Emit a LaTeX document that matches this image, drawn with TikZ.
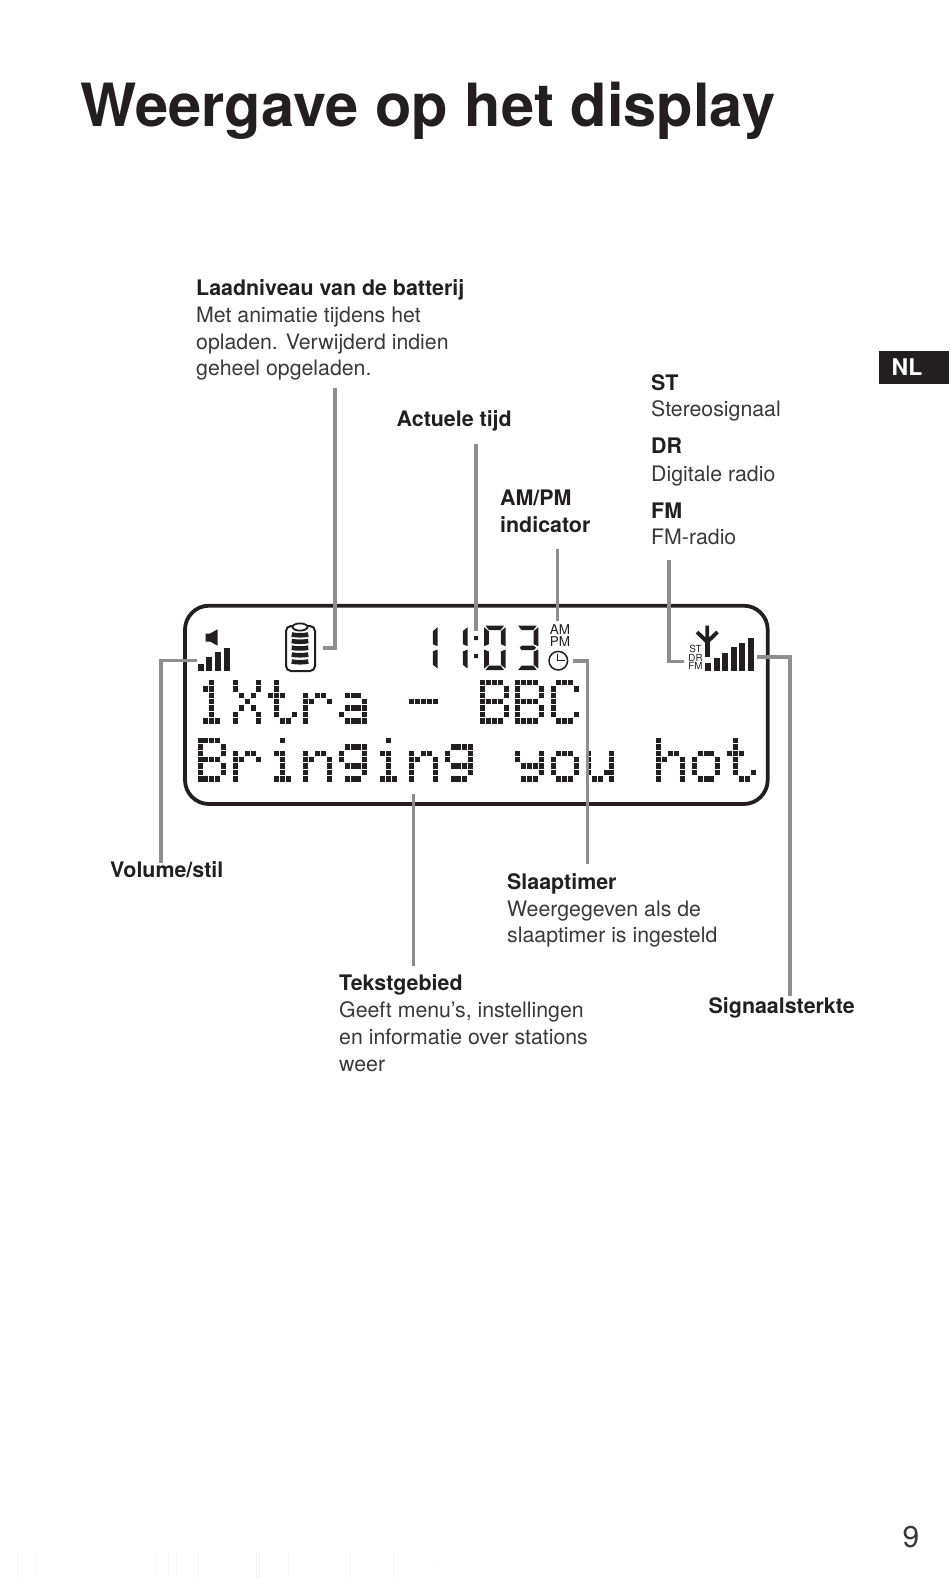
\documentclass[tikz,border=0pt]{standalone}
\usepackage{fontspec}
\setmainfont{TeX Gyre Heros}
\definecolor{inkblack}{HTML}{231F20}
\definecolor{bodygrey}{HTML}{3A3839}
\definecolor{leadgrey}{HTML}{8E8E8E}
\definecolor{scanfaint}{HTML}{F3F3F9}
\tikzset{
  leader/.style={draw=leadgrey,line width=3.3pt,line join=miter},
  headtext/.style={anchor=base west,inner sep=0pt,font=\fontsize{21.4}{26.5}\selectfont\bfseries,text=inkblack},
  infotext/.style={anchor=base west,inner sep=0pt,font=\fontsize{21.3}{26.5}\selectfont,text=bodygrey},
  tinytext/.style={inner sep=0pt,anchor=base,text=inkblack},
  lcd/.style={fill=inkblack}
}
% dot matrix letters: row/{columns}
\newcommand\defglyph[2]{\expandafter\def\csname gl#1\endcsname{#2}}
\defglyph{1}{0/2,1/{1,2},2/2,3/2,4/2,5/2,6/{1,2,3}}
\defglyph{X}{0/{0,4},1/{0,4},2/{1,3},3/2,4/{1,3},5/{0,4},6/{0,4}}
\defglyph{t}{0/1,1/1,2/{0,1,2},3/1,4/1,5/{1,4},6/{2,3}}
\defglyph{r}{2/{0,2,3},3/{0,1,4},4/0,5/0,6/0}
\defglyph{a}{2/{1,2,3},3/4,4/{1,2,3,4},5/{0,4},6/{1,2,3,4}}
\defglyph{-}{3/{0,1,2,3,4}}
\defglyph{B}{0/{0,1,2,3},1/{0,4},2/{0,4},3/{0,1,2,3},4/{0,4},5/{0,4},6/{0,1,2,3}}
\defglyph{C}{0/{1,2,3},1/{0,4},2/0,3/0,4/0,5/{0,4},6/{1,2,3}}
\defglyph{i}{0/2,2/{1,2},3/2,4/2,5/2,6/{1,2,3}}
\defglyph{n}{2/{0,2,3},3/{0,1,4},4/{0,4},5/{0,4},6/{0,4}}
\defglyph{g}{1/{1,2,3,4},2/{0,4},3/{0,4},4/{1,2,3,4},5/4,6/{1,2,3}}
\defglyph{y}{2/{0,4},3/{0,4},4/{1,2,3,4},5/4,6/{1,2,3}}
\defglyph{o}{2/{1,2,3},3/{0,4},4/{0,4},5/{0,4},6/{1,2,3}}
\defglyph{u}{2/{0,4},3/{0,4},4/{0,4},5/{0,3,4},6/{1,2,4}}
\defglyph{h}{0/0,1/0,2/{0,2,3},3/{0,1,4},4/{0,4},5/{0,4},6/{0,4}}
\newcommand\dotline[3]{
  \foreach \k/\g in {#3}{
    \edef\curglyph{\csname gl\g\endcsname}
    \foreach \rw/\cls in \curglyph{
      \foreach \cl in \cls{
        \fill[lcd]({#1+\k*35.3+\cl*5.9},{#2+\rw*6.35}) rectangle +(5,5.4);
      }
    }
  }
}
% clock digit segments, digit box 21.6 x 44.3
\newcommand\segA{\fill[lcd](1.5,0)--(20,0)--(16.6,4.4)--(5,4.4)--cycle;}
\newcommand\segB{\fill[lcd](21.6,1.5)--(21.6,20.5)--(16.8,18.5)--(16.8,5.5)--cycle;}
\newcommand\segC{\fill[lcd](21.6,23.8)--(21.6,42.8)--(16.8,39)--(16.8,25.8)--cycle;}
\newcommand\segD{\fill[lcd](1.5,44.3)--(20,44.3)--(16.6,39.9)--(5,39.9)--cycle;}
\newcommand\segE{\fill[lcd](0,23.8)--(0,42.8)--(4.8,39)--(4.8,25.8)--cycle;}
\newcommand\segF{\fill[lcd](0,1.5)--(0,20.5)--(4.8,18.5)--(4.8,5.5)--cycle;}
\newcommand\segG{\fill[lcd](3,22.1)--(5,19.9)--(17,19.9)--(19.5,22.1)--(17,24.3)--(5,24.3)--cycle;}
\begin{document}
\begin{tikzpicture}[x=1pt,y=-1pt]
  \useasboundingbox(0,0)rectangle(950,1578);
  % title and tab
  \node[anchor=base west,inner sep=0pt,text=inkblack,font=\fontsize{59.6}{60}\selectfont\bfseries](title) at (80.5,127){Weergave op het display};
  \fill[inkblack](878.5,351)rectangle(949,383.5);
  \node[anchor=base,inner sep=0pt,text=white,font=\fontsize{23}{23}\selectfont\bfseries](tab) at (907,375){NL};
  \node[anchor=base,inner sep=0pt,text=bodygrey,font=\fontsize{30}{30}\selectfont](pagenum) at (911,1547){9};
  \foreach \x in {17,36,156,168,176,198,256,259,288,350,393}{
    \draw[scanfaint,line width=.8pt](\x,1552)--(\x,1578);
  }
  \draw[scanfaint,line width=.8pt,dotted](434,1558)--(434,1567);
  % labels
  \node[headtext](batlabel) at (196,296){Laadniveau van de batterij};
  \node[infotext](batline1) at (196,323){Met animatie tijdens het};
  \node[infotext](batline2) at (196,349){opladen. Verwijderd indien};
  \node[infotext](batline3) at (196,375.5){geheel opgeladen.};
  \node[headtext](timelabel) at (396.5,426.5){Actuele tijd};
  \node[headtext](amlabel) at (500,505){AM/PM};
  \node[headtext](indlabel) at (500,532){indicator};
  \node[headtext](stlabel) at (651,390.5){ST};
  \node[infotext](sttext) at (651,416.5){Stereosignaal};
  \node[headtext](drlabel) at (651,453){DR};
  \node[infotext](drtext) at (651,481){Digitale radio};
  \node[headtext](fmlabel) at (651,518){FM};
  \node[infotext](fmtext) at (651,544.5){FM-radio};
  \node[headtext](vollabel) at (110,877.5){Volume/stil};
  \node[headtext](sleeplabel) at (507,889.5){Slaaptimer};
  \node[infotext](sleepline1) at (507,916){Weergegeven als de};
  \node[infotext](sleepline2) at (507,942){slaaptimer is ingesteld};
  \node[headtext](arealabel) at (339,990){Tekstgebied};
  \node[infotext](arealine1) at (339,1017.5){Geeft menu’s, instellingen};
  \node[infotext](arealine2) at (339,1044){en informatie over stations};
  \node[infotext](arealine3) at (339,1071){weer};
  \node[headtext](siglabel) at (708.5,1013.5){Signaalsterkte};
  % display
  \draw[inkblack,line width=3.8pt,rounded corners=24pt](185,605.7)rectangle(767.7,804);
  \dotline{197.5}{680}{0/1,1/X,2/t,3/r,4/a,6/-,8/B,9/B,10/C}
  \dotline{197.5}{738}{0/B,1/r,2/i,3/n,4/g,5/i,6/n,7/g,9/y,10/o,11/u,13/h,14/o,15/t}
  % speaker and volume bars
  \fill[lcd](205.7,633.5)--(210,633.5)--(217.7,629.3)--(217.7,645.7)--(210,641.5)--(205.7,641.5)--cycle;
  \foreach \x/\y in {198.3/663.5,206/656.7,215/652.3,224/648.3}{
    \fill[lcd](\x,\y)rectangle(\x+5.5,671);
  }
  % battery
  \draw[inkblack,line width=2pt,fill=white,rounded corners=5pt](286,626)rectangle(315,671);
  \draw[inkblack,line width=1.8pt,fill=white](300,627)ellipse[x radius=7.5,y radius=3.6];
  \foreach \y in {634.5,641,647.7,654.5,661.5}{
    \draw[inkblack,line width=4.6pt](291.7,\y)..controls(296,\y+1)and(304,\y+1)..(308.3,\y);
  }
  % clock
  \begin{scope}[shift={(416,625.7)}]\segB\segC\end{scope}
  \begin{scope}[shift={(446,625.7)}]\segB\segC\end{scope}
  \fill[lcd](474,636)rectangle(478,640) (474,654)rectangle(478,658);
  \begin{scope}[shift={(484,625.7)}]\segA\segB\segC\segD\segE\segF\end{scope}
  \begin{scope}[shift={(516.7,625.7)}]\segA\segB\segC\segD\segG\end{scope}
  % am/pm and sleep timer
  \node[tinytext,font=\fontsize{13.5}{13.5}\selectfont](amtag) at (560,634){AM};
  \node[tinytext,font=\fontsize{13.5}{13.5}\selectfont](pmtag) at (560,646.7){PM};
  \draw[inkblack,line width=1.5pt](558.3,660.7)circle(9.3);
  \draw[inkblack,line width=1.3pt](557.5,653.5)--(557.5,660.7)--(565,660.7);
  % receiver tags, aerial and signal
  \node[tinytext,font=\fontsize{9.8}{9.8}\selectfont](sttag) at (695.5,652.7){ST};
  \node[tinytext,font=\fontsize{9.8}{9.8}\selectfont](drtag) at (695.5,661){DR};
  \node[tinytext,font=\fontsize{9.8}{9.8}\selectfont](fmtag) at (695.5,669.3){FM};
  \fill[lcd](705,636.7)rectangle(709.5,656.7);
  \draw[inkblack,line width=3.8pt](697,632)--(707.2,642)--(717.5,632) (707.2,625.7)--(707.2,642);
  \foreach \x/\y in {705/662.7,713.5/657.7,721.7/652.7,730.7/647.3,739/642.7,747.7/637.7}{
    \fill[lcd](\x,\y)rectangle(\x+6,671);
  }
  % leaders
  \coordinate(batstart) at (335,387.5);
  \coordinate(batend) at (323,648);
  \coordinate(timestart) at (476,444);
  \coordinate(timeend) at (476,631);
  \coordinate(amstart) at (557.7,548.5);
  \coordinate(amend) at (557.7,621);
  \coordinate(fmstart) at (669,559.5);
  \coordinate(fmend) at (684,661.7);
  \coordinate(volstart) at (161,862.5);
  \coordinate(volend) at (196.7,660.7);
  \coordinate(sleepstart) at (587.7,863.5);
  \coordinate(sleepend) at (573,661);
  \coordinate(areastart) at (413.3,966);
  \coordinate(areaend) at (413.3,794);
  \coordinate(sigstart) at (790,996);
  \coordinate(sigend) at (756.7,657);
  \draw[leader](batstart)--(batstart|-batend)--(batend);
  \draw[leader](timestart)--(timeend);
  \draw[leader](amstart)--(amend);
  \draw[leader](fmstart)--(fmstart|-fmend)--(fmend);
  \draw[leader](volstart)--(volstart|-volend)--(volend);
  \draw[leader](sleepstart)--(sleepstart|-sleepend)--(sleepend);
  \draw[leader](areastart)--(areaend);
  \draw[leader](sigstart)--(sigstart|-sigend)--(sigend);
\end{tikzpicture}
\end{document}
